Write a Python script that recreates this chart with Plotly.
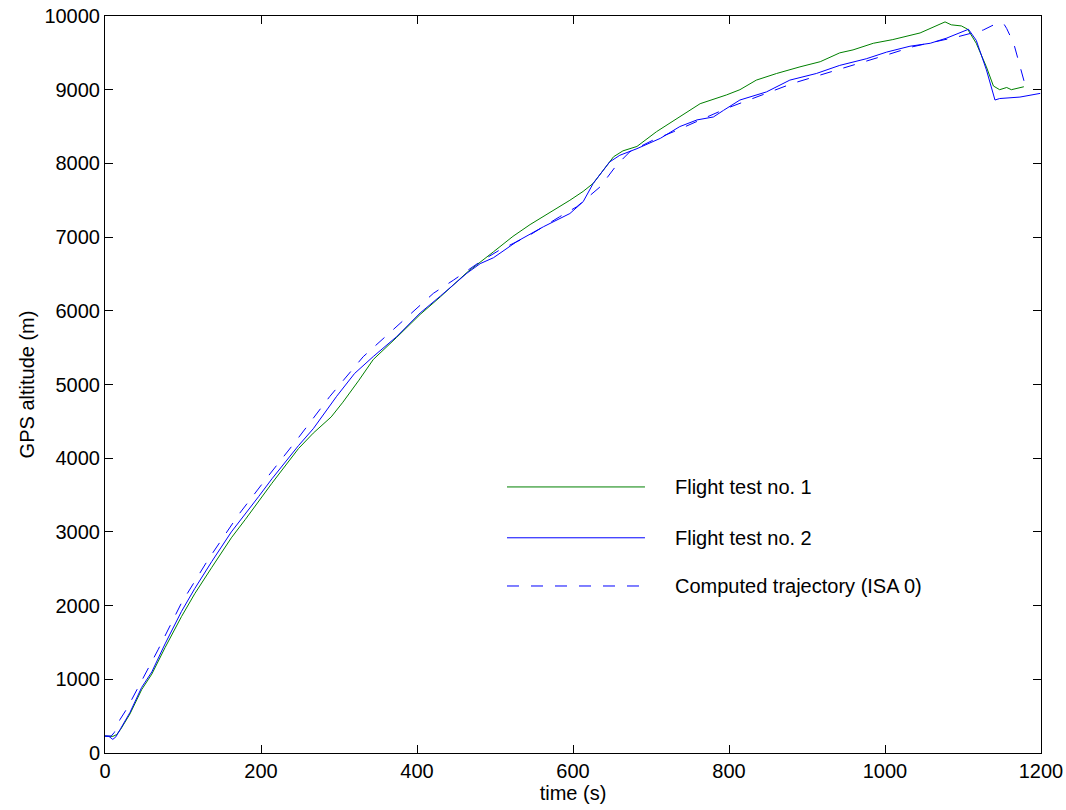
import plotly.graph_objects as go

# Flight test no. 1 (green)
t1 = [0, 5, 10, 15, 20, 32, 47, 60, 77, 98, 115, 137, 162, 180, 197, 214, 248, 267, 290, 305, 325,
      344, 374, 404, 430, 464, 498, 523, 545, 570, 596, 613, 626, 639, 652, 664, 682, 707, 737, 763,
      797, 814, 835, 861, 891, 917, 942, 959, 985, 1010, 1045, 1062, 1077, 1085, 1098, 1106, 1117,
      1130, 1139, 1147, 1156, 1162, 1170, 1178]
alt1 = [230, 230, 225, 250, 320, 530, 860, 1070, 1430, 1850, 2160, 2520, 2920, 3170, 3420, 3660,
        4130, 4340, 4560, 4760, 5050, 5340, 5640, 5950, 6190, 6520, 6800, 7010, 7170, 7330, 7500,
        7620, 7730, 7910, 8090, 8170, 8230, 8430, 8630, 8810, 8930, 9000, 9130, 9220, 9310, 9380,
        9500, 9540, 9630, 9680, 9770, 9850, 9920, 9880, 9865, 9820, 9630, 9310, 9050, 9000, 9030,
        9000, 9020, 9040]

# Flight test no. 2 (blue)
t2 = [0, 5, 10, 14, 20, 32, 47, 60, 77, 98, 115, 137, 162, 180, 197, 214, 248, 267, 297, 320, 344,
      374, 404, 430, 464, 481, 498, 528, 562, 596, 613, 626, 647, 660, 682, 712, 737, 759, 780, 793,
      814, 848, 878, 912, 942, 976, 1002, 1032, 1058, 1079, 1100, 1107, 1117, 1130, 1141, 1147,
      1173, 1199]
alt2 = [230, 225, 185, 220, 330, 550, 890, 1100, 1480, 1920, 2230, 2600, 3000, 3240, 3480, 3720,
        4170, 4400, 4840, 5150, 5380, 5650, 5970, 6200, 6510, 6640, 6720, 6940, 7140, 7320, 7480,
        7730, 8020, 8110, 8200, 8340, 8500, 8590, 8630, 8720, 8860, 8970, 9130, 9220, 9330, 9420,
        9510, 9590, 9630, 9700, 9790, 9820, 9670, 9270, 8860, 8880, 8900, 8950]

# Computed trajectory (ISA 0), dashed blue
tc = [0, 8, 12, 19, 28, 43, 68, 98, 132, 171, 205, 246, 288, 331, 374, 421, 447, 481, 506, 541,
      583, 605, 635, 656, 673, 703, 729, 797, 882, 947, 1006, 1036, 1094, 1126, 1139, 1152, 1156,
      1165, 1173, 1180]
altc = [230, 230, 280, 450, 600, 900, 1400, 2035, 2620, 3230, 3700, 4250, 4835, 5377, 5785, 6237,
        6418, 6666, 6825, 7005, 7277, 7413, 7684, 7978, 8159, 8318, 8430, 8747, 9087, 9290, 9484,
        9584, 9720, 9810, 9878, 9900, 9830, 9629, 9312, 9050]

legend_labels = ["Flight test no. 1", "Flight test no. 2", "Computed trajectory (ISA 0)"]
x_ticks = [0, 200, 400, 600, 800, 1000, 1200]
y_ticks = [0, 1000, 2000, 3000, 4000, 5000, 6000, 7000, 8000, 9000, 10000]

GREEN = "#008000"
BLUE = "#0000ff"
FONT = "Liberation Sans, Arial, sans-serif"
FS = 20

fig = go.Figure()
fig.add_trace(go.Scatter(x=t1, y=alt1, mode="lines", line=dict(color=GREEN, width=1),
                         name=legend_labels[0], showlegend=False))
fig.add_trace(go.Scatter(x=t2, y=alt2, mode="lines", line=dict(color=BLUE, width=1),
                         name=legend_labels[1], showlegend=False))
fig.add_trace(go.Scatter(x=tc, y=altc, mode="lines", line=dict(color=BLUE, width=1, dash="12px,12px"),
                         name=legend_labels[2], showlegend=False))

# Manual legend (no frame)
leg_rows = [0.361, 0.292, 0.2266]
leg_styles = [dict(color=GREEN, width=1), dict(color=BLUE, width=1),
              dict(color=BLUE, width=1, dash="12px,12px")]
for yy, style, lab in zip(leg_rows, leg_styles, legend_labels):
    fig.add_shape(type="line", xref="paper", yref="paper", x0=0.4295, x1=0.5769, y0=yy, y1=yy,
                  line=style)
    fig.add_annotation(xref="paper", yref="paper", x=0.6068, y=yy, text=lab, showarrow=False,
                       xanchor="left", yanchor="middle", font=dict(size=FS, color="black", family=FONT))

axis_common = dict(showline=True, linecolor="black", linewidth=1, mirror="ticks",
                   ticks="inside", ticklen=8, tickcolor="black", tickwidth=1,
                   showgrid=False, zeroline=False, tickformat="d",
                   tickfont=dict(size=FS, color="black", family=FONT))

fig.update_layout(
    width=1066, height=810,
    margin=dict(l=105, r=25, t=16, b=57, autoexpand=False),
    paper_bgcolor="white", plot_bgcolor="white",
    font=dict(family=FONT, size=FS, color="black"),
    xaxis=dict(range=[0, 1200], tickvals=x_ticks,
               title=dict(text="time (s)", standoff=0, font=dict(size=FS, family=FONT)),
               **axis_common),
    yaxis=dict(range=[0, 10000], tickvals=y_ticks,
               title=dict(text="GPS altitude (m)", standoff=4, font=dict(size=FS, family=FONT)),
               **axis_common),
)

fig.write_html("out.html", config={"displayModeBar": False},
               post_script="document.body.style.margin='0px';")
